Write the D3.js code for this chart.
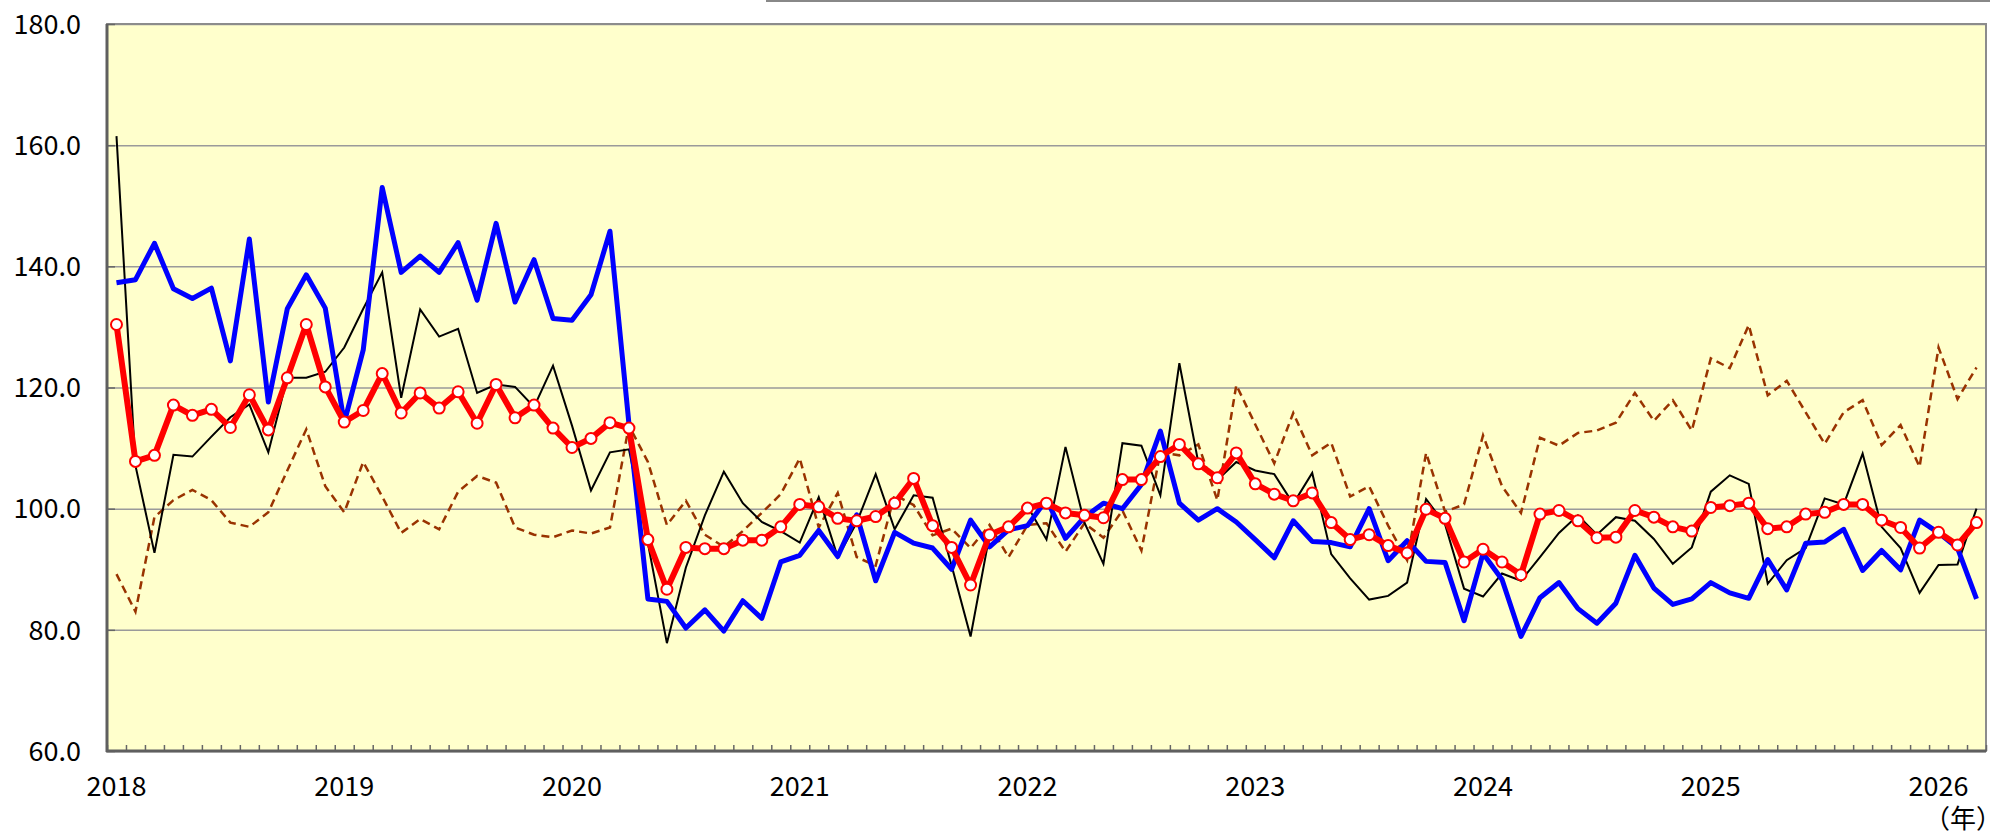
<!DOCTYPE HTML>
<meta charset="utf-8">
<html>
	<head>
		<script src="https://cdnjs.cloudflare.com/ajax/libs/d3/7.8.5/d3.min.js"></script>
		<style>
			body
			{
				margin: 0;
				background: #ffffff;
				font-family: 'Noto Sans CJK JP', 'Noto Sans', sans-serif;
			}
		</style>
	</head>
	<body>

		<svg width="2012" height="837"></svg>

		<script>

		// Monthly values, Jan 2018 .. Mar 2026

		var yearLabels = ["2018", "2019", "2020", "2021", "2022", "2023", "2024", "2025", "2026"];
		var yTicks = [60, 80, 100, 120, 140, 160, 180];

		// red line with circle markers
		var redSeries = [
			130.4, 107.8, 108.8, 117.1, 115.4, 116.4, 113.4, 118.8, 113.0, 121.6, 130.4, 120.1,
			114.3, 116.2, 122.3, 115.8, 119.1, 116.6, 119.3, 114.1, 120.5, 115.0, 117.1, 113.3,
			110.1, 111.6, 114.2, 113.3, 94.9, 86.7, 93.6, 93.4, 93.4, 94.8, 94.8, 97.0,
			100.7, 100.3, 98.4, 98.0, 98.7, 100.9, 105.0, 97.2, 93.6, 87.4, 95.7, 97.0,
			100.1, 100.9, 99.3, 98.9, 98.5, 104.8, 104.8, 108.6, 110.6, 107.4, 105.1, 109.2,
			104.1, 102.4, 101.3, 102.6, 97.7, 94.9, 95.7, 93.9, 92.7, 99.9, 98.4, 91.2,
			93.3, 91.2, 89.1, 99.1, 99.7, 98.0, 95.2, 95.3, 99.7, 98.6, 97.0, 96.3,
			100.2, 100.5, 100.9, 96.7, 97.0, 99.1, 99.4, 100.7, 100.7, 98.1, 96.9, 93.5,
			96.1, 94.0, 97.7
		];

		// thick blue line
		var blueSeries = [
			137.3, 137.8, 143.8, 136.3, 134.7, 136.4, 124.4, 144.5, 117.6, 133.0, 138.6, 133.1,
			114.2, 126.2, 153.0, 139.0, 141.7, 139.0, 143.9, 134.4, 147.1, 134.1, 141.1, 131.4,
			131.1, 135.3, 145.8, 114.0, 85.1, 84.7, 80.3, 83.3, 79.8, 84.8, 81.9, 91.2,
			92.3, 96.4, 92.1, 99.0, 88.1, 96.1, 94.3, 93.5, 90.0, 98.1, 93.7, 96.5,
			97.2, 101.5, 95.1, 98.6, 100.9, 100.0, 104.0, 112.8, 100.9, 98.1, 100.0, 97.8,
			94.9, 91.9, 98.0, 94.6, 94.4, 93.7, 100.0, 91.4, 94.7, 91.3, 91.1, 81.5,
			92.6, 88.3, 78.9, 85.3, 87.8, 83.5, 81.1, 84.4, 92.3, 86.9, 84.2, 85.1,
			87.8, 86.1, 85.2, 91.6, 86.6, 94.3, 94.5, 96.6, 89.8, 93.1, 89.9, 98.1,
			96.0, 93.5, 85.1
		];

		// thin black line
		var blackSeries = [
			161.5, 107.1, 92.7, 108.9, 108.6, 111.9, 115.1, 117.2, 109.3, 121.6, 121.6, 122.6,
			126.6, 133.0, 139.0, 118.3, 132.9, 128.4, 129.7, 119.1, 120.5, 120.1, 116.8, 123.6,
			113.7, 103.0, 109.3, 109.8, 94.3, 77.8, 90.3, 98.9, 106.1, 100.9, 97.8, 96.3,
			94.4, 101.9, 92.0, 97.7, 105.7, 96.6, 102.2, 101.8, 90.6, 78.9, 95.7, 96.6,
			100.4, 94.9, 110.2, 97.7, 90.9, 110.8, 110.4, 102.2, 124.0, 107.6, 104.7, 107.7,
			106.3, 105.7, 100.8, 105.9, 92.5, 88.5, 85.0, 85.6, 87.8, 101.6, 97.4, 86.8,
			85.5, 89.3, 88.1, 92.0, 96.0, 98.9, 95.7, 98.6, 98.0, 95.0, 90.9, 93.6,
			102.8, 105.5, 104.1, 87.6, 91.5, 93.5, 101.7, 100.7, 109.1, 97.0, 93.5, 86.1,
			90.7, 90.8, 100.0
		];

		// brown dashed line
		var brownSeries = [
			89.2, 83.0, 98.6, 101.4, 103.1, 101.4, 97.7, 97.0, 99.4, 106.3, 113.1, 103.7,
			99.4, 107.7, 102.0, 96.0, 98.3, 96.6, 102.8, 105.4, 104.3, 96.9, 95.7, 95.3,
			96.4, 95.9, 96.9, 113.7, 107.7, 97.3, 101.3, 95.7, 93.7, 96.3, 99.3, 102.4,
			108.3, 96.9, 102.6, 92.0, 90.6, 102.3, 100.6, 95.6, 96.7, 93.5, 97.3, 92.0,
			97.3, 97.6, 92.9, 97.6, 95.2, 99.7, 93.1, 109.3, 108.8, 110.6, 101.4, 120.4,
			113.9, 107.5, 115.8, 108.8, 110.9, 102.0, 103.7, 97.2, 91.5, 109.2, 99.5, 100.7,
			112.1, 103.7, 99.3, 111.7, 110.4, 112.5, 112.9, 114.2, 119.1, 114.5, 117.9, 112.9,
			124.8, 123.2, 130.3, 118.7, 121.1, 115.9, 110.7, 115.9, 117.9, 110.5, 113.8, 106.9,
			126.6, 118.1, 123.3
		];

		var canvas = d3.select("svg");
		var margin = {top: 24, right: 26, bottom: 86, left: 107};
		var width = Number(canvas.attr("width")) - margin.left - margin.right;
		var height = Number(canvas.attr("height")) - margin.top - margin.bottom;
		var numMonths = redSeries.length;

		// thin gray rule cut off at the very top of the picture
		canvas.append("line")
				.attr("x1", 766)
				.attr("x2", 1990)
				.attr("y1", 1)
				.attr("y2", 1)
				.attr("stroke", "#888888")
				.attr("stroke-width", 2);

		var group = canvas.append("g").attr("transform", "translate(" + margin.left + "," + margin.top + ")");

		// one slot per month, points sit in the middle of the slot
		var x = d3.scaleLinear()
				.domain([0, numMonths])
				.range([0, width]);

		var y = d3.scaleLinear()
				.domain([60, 180])
				.range([height, 0]);

		group.append("rect")
				.attr("width", width)
				.attr("height", height)
				.attr("fill", "#ffffcc");

		// gridlines
		group.append("g")
				.attr("class", "grid")
				.call(d3.axisLeft(y).tickValues(yTicks).tickSize(-width).tickFormat(""))
				.call(function(g) { g.select(".domain").remove(); })
				.selectAll("line")
				.attr("stroke", "#9a9a9a")
				.attr("stroke-width", 1.5);

		// frame
		group.append("rect")
				.attr("width", width)
				.attr("height", height)
				.attr("fill", "none")
				.attr("stroke", "#8c8c8c")
				.attr("stroke-width", 2);

		// y axis, ticks pointing inwards
		var yAxis = group.append("g")
				.call(d3.axisRight(y).tickValues(yTicks).tickSize(8).tickFormat(""));
		yAxis.select(".domain").remove();
		yAxis.selectAll("line").attr("stroke", "#666666").attr("stroke-width", 1.5);

		group.append("g")
				.selectAll("text")
				.data(yTicks)
				.join("text")
				.attr("x", -26)
				.attr("y", function(d) { return y(d); })
				.attr("dy", "0.36em")
				.attr("text-anchor", "end")
				.attr("font-size", 27)
				.attr("fill", "#000000")
				.text(function(d) { return d.toFixed(1); });

		// x axis, monthly ticks pointing up
		var xAxis = group.append("g")
				.attr("transform", "translate(0," + height + ")")
				.call(d3.axisTop(x).tickValues(d3.range(numMonths + 1)).tickSize(6).tickFormat(""));
		xAxis.select(".domain").remove();
		xAxis.selectAll("line").attr("stroke", "#666666").attr("stroke-width", 1.5);

		group.append("line")
				.attr("x1", 0).attr("x2", 0)
				.attr("y1", 0).attr("y2", height + 1)
				.attr("stroke", "#5f5f5f")
				.attr("stroke-width", 3);

		group.append("line")
				.attr("x1", -1).attr("x2", width)
				.attr("y1", height).attr("y2", height)
				.attr("stroke", "#5f5f5f")
				.attr("stroke-width", 3);

		group.append("g")
				.selectAll("text")
				.data(yearLabels)
				.join("text")
				.attr("x", function(d, i) { return x(i * 12 + 0.5); })
				.attr("y", height + 45)
				.attr("text-anchor", "middle")
				.attr("font-size", 27)
				.attr("fill", "#000000")
				.text(function(d) { return d; });

		group.append("text")
				.attr("x", width + 16)
				.attr("y", height + 77)
				.attr("text-anchor", "end")
				.attr("font-size", 26)
				.attr("fill", "#000000")
				.text("（年）");

		var line = d3.line()
				.x(function(d, i) { return x(i + 0.5); })
				.y(function(d) { return y(d); });

		group.append("path")
				.datum(brownSeries)
				.attr("d", line)
				.attr("fill", "none")
				.attr("stroke", "#993300")
				.attr("stroke-width", 2.5)
				.attr("stroke-dasharray", "8,5");

		group.append("path")
				.datum(blackSeries)
				.attr("d", line)
				.attr("fill", "none")
				.attr("stroke", "#000000")
				.attr("stroke-width", 2);

		group.append("path")
				.datum(blueSeries)
				.attr("d", line)
				.attr("fill", "none")
				.attr("stroke", "#0000ff")
				.attr("stroke-width", 5)
				.attr("stroke-linejoin", "round");

		group.append("path")
				.datum(redSeries)
				.attr("d", line)
				.attr("fill", "none")
				.attr("stroke", "#ff0000")
				.attr("stroke-width", 6)
				.attr("stroke-linejoin", "round");

		group.append("g")
				.selectAll("circle")
				.data(redSeries)
				.join("circle")
				.attr("cx", function(d, i) { return x(i + 0.5); })
				.attr("cy", function(d) { return y(d); })
				.attr("r", 5.5)
				.attr("fill", "#ffffff")
				.attr("stroke", "#ff0000")
				.attr("stroke-width", 2);

		</script>
	</body>
</html>
